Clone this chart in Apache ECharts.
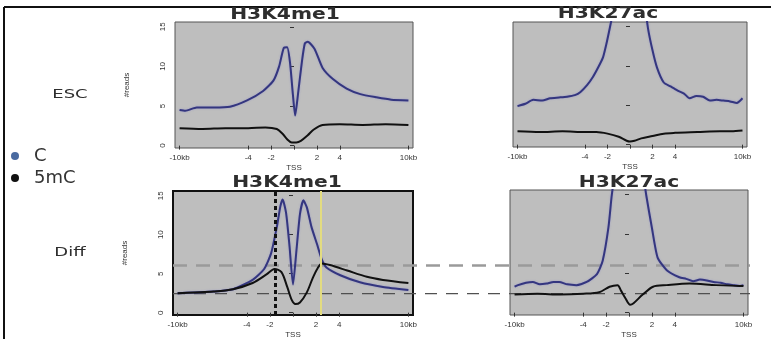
<!DOCTYPE html>
<html>
<head>
<meta charset="utf-8">
<script src="https://cdn.jsdelivr.net/npm/echarts@6/dist/echarts.min.js"></script>
<style>
html, body { margin: 0; padding: 0; background: #fff; }
#main { width: 771px; height: 339px; }
</style>
</head>
<body>
<div id="main"></div>
<script>
//坐标轴刻度
var xTicks = [-10, -4, -2, 0, 2, 4, 10];
var yTicks = [0, 5, 10, 15];

//ESC H3K4me1
var escK4CX = [-10, -9.5, -8.5, -7, -5.6, -4.1, -2.7, -1.8, -1.3, -0.9, -0.6, -0.35, -0.1, 0.1, 0.35, 0.7, 0.95, 1.2, 1.8, 2.5, 3.4, 4.6, 5.8, 7.2, 8.5, 10];
var escK4C = [4.5, 4.4, 4.8, 4.8, 4.9, 5.7, 6.9, 8.2, 10.0, 12.3, 12.4, 10.5, 6.5, 3.8, 6.5, 10.7, 12.9, 13.1, 12.2, 9.8, 8.4, 7.2, 6.5, 6.1, 5.8, 5.7];
var escK4mX = [-10, -8, -6, -4, -2.5, -1.5, -1, -0.6, -0.2, 0.2, 0.6, 1.2, 1.7, 2.5, 4, 6, 8, 10];
var escK4m = [2.2, 2.1, 2.2, 2.2, 2.3, 2.1, 1.5, 0.8, 0.4, 0.4, 0.6, 1.3, 2.0, 2.6, 2.7, 2.6, 2.7, 2.6];

//ESC H3K27ac
var escK27CX = [-10, -9.3, -8.6, -7.8, -7.1, -6.3, -5.6, -4.9, -4.4, -3.8, -3.3, -2.8, -2.4, -2.1, -1.8, -1.2, -0.6, 0, 0.6, 1.2, 1.6, 2.0, 2.4, 3, 3.6, 4.2, 4.8, 5.3, 5.9, 6.5, 7.1, 7.7, 8.3, 8.9, 9.5, 10];
var escK27C = [4.9, 5.2, 5.7, 5.6, 5.9, 6.0, 6.1, 6.3, 6.7, 7.6, 8.6, 9.9, 11.1, 12.8, 14.8, 19, 23, 25, 23, 19, 14.8, 12, 9.8, 7.9, 7.4, 6.9, 6.5, 5.9, 6.2, 6.1, 5.6, 5.7, 5.6, 5.5, 5.3, 5.9];
var escK27mX = [-10, -8, -6, -4, -3, -2, -1, -0.3, 0, 0.4, 1, 2, 3, 4, 6, 8, 9, 10];
var escK27m = [1.7, 1.6, 1.7, 1.6, 1.6, 1.4, 1.0, 0.5, 0.4, 0.5, 0.8, 1.1, 1.4, 1.5, 1.6, 1.7, 1.7, 1.8];

//Diff H3K4me1
var diffK4CX = [-10, -8.5, -6.9, -5.2, -3.5, -2.5, -1.9, -1.4, -1.1, -0.9, -0.6, -0.3, 0, 0.3, 0.6, 0.9, 1.2, 1.6, 2.1, 2.5, 2.9, 4.1, 5.8, 7.8, 10];
var diffK4C = [2.5, 2.6, 2.7, 3.0, 4.2, 5.6, 7.6, 11.0, 13.6, 14.5, 12.8, 8.5, 3.6, 8.0, 12.6, 14.4, 13.5, 11.0, 8.7, 6.8, 5.8, 4.8, 3.9, 3.3, 2.9];
var diffK4mX = [-10, -8.5, -6.9, -5.2, -3.5, -2.3, -1.6, -1.0, -0.5, -0.1, 0.2, 0.6, 1.2, 1.7, 2.1, 2.5, 3.2, 4.7, 6.4, 7.8, 10];
var diffK4m = [2.5, 2.6, 2.7, 3.0, 3.8, 4.9, 5.6, 5.2, 3.3, 1.6, 1.1, 1.3, 2.6, 4.4, 5.6, 6.3, 6.1, 5.4, 4.6, 4.2, 3.8];

//Diff H3K27ac
var diffK27CX = [-10, -9.7, -9, -8.4, -7.8, -7.2, -6.6, -6.1, -5.4, -4.6, -3.7, -2.8, -2.3, -1.8, -1.5, -1, 0, 1, 1.5, 2, 2.5, 3.3, 4.4, 5, 5.6, 6.2, 6.8, 7.4, 8, 8.6, 9.1, 9.7, 10];
var diffK27C = [3.3, 3.5, 3.8, 3.9, 3.6, 3.7, 3.9, 3.9, 3.6, 3.5, 3.9, 4.9, 6.6, 10.8, 15, 20, 25, 20, 15, 10.8, 7.0, 5.4, 4.5, 4.3, 4.0, 4.2, 4.1, 3.9, 3.8, 3.6, 3.5, 3.4, 3.5];
var diffK27mX = [-10, -8, -6, -4, -2.6, -1.7, -1.0, -0.7, -0.3, 0.1, 0.4, 1.2, 2.1, 3.3, 5.3, 7.6, 9.7, 10];
var diffK27m = [2.3, 2.4, 2.3, 2.4, 2.6, 3.3, 3.5, 2.8, 1.8, 1.0, 1.2, 2.3, 3.3, 3.5, 3.7, 3.5, 3.4, 3.4];

//参考线
var refLevels = [6.2, 2.65];
var refSpan = [0, 1];
var diffMarks = [-1.5, 2.4];

var blue = '#34367f';
var yMin = -0.3, yMax = 15.6;

function pairs(xs, ys) {
	var out = [];
	for (var i = 0; i < xs.length; i++) {
		out.push([xs[i], ys[i]]);
	}
	return out;
}

function tickLabel(v) {
	if (v === 0) return '{t|TSS}';
	if (v === -10) return '-10kb';
	if (v === 10) return '10kb';
	return String(v);
}

function makeX(idx) {
	return {
		type: 'value',
		gridIndex: idx,
		min: -10.4,
		max: 10.4,
		splitLine: { show: false },
		axisLine: { show: false },
		axisTick: { show: true, customValues: xTicks, length: 4, lineStyle: { color: '#333' } },
		axisLabel: {
			customValues: xTicks,
			formatter: tickLabel,
			fontSize: 8,
			color: '#333',
			margin: 6,
			rich: { t: { fontSize: 8, color: '#333', padding: [10, 0, 0, 0] } }
		}
	};
}

function makeY(idx, withLabel) {
	return {
		type: 'value',
		gridIndex: idx,
		min: yMin,
		max: yMax,
		name: withLabel ? '#reads' : '',
		nameLocation: 'middle',
		nameRotate: 90,
		nameGap: 44,
		nameTextStyle: { fontSize: 8, color: '#333' },
		splitLine: { show: false },
		axisLine: { show: false },
		axisTick: { show: true, customValues: yTicks, length: 4, lineStyle: { color: '#333' } },
		axisLabel: {
			show: withLabel,
			customValues: yTicks,
			rotate: 90,
			fontSize: 8,
			color: '#333',
			margin: 8
		}
	};
}

function curve(name, idx, xs, ys, color) {
	var isBlue = color === blue;
	return {
		name: name,
		type: 'line',
		xAxisIndex: idx,
		yAxisIndex: idx,
		data: pairs(xs, ys),
		smooth: isBlue ? 0.2 : 0.3,
		symbol: 'none',
		lineStyle: {
			color: color,
			width: 2,
			shadowColor: isBlue ? 'rgba(110,110,210,0.45)' : 'rgba(0,0,0,0)',
			shadowBlur: isBlue ? 2 : 0
		},
		itemStyle: { color: color },
		z: 3
	};
}

function titleText(txt, x, y, size, sx, weight) {
	return {
		type: 'text',
		x: x,
		y: y,
		scaleX: sx,
		style: {
			text: txt,
			x: 0,
			y: 0,
			fill: '#2e2e2e',
			font: (weight || 'normal') + ' ' + size + 'px "DejaVu Sans"',
			textAlign: 'center',
			textVerticalAlign: 'middle'
		}
	};
}

var gridBg = '#bebebe';
var grids = [
	{ left: 175, top: 22, width: 238, height: 126, show: true, backgroundColor: gridBg, borderColor: '#555', borderWidth: 1 },
	{ left: 513, top: 22, width: 234, height: 125, show: true, backgroundColor: gridBg, borderColor: '#555', borderWidth: 1 },
	{ left: 173, top: 191, width: 240, height: 126, show: true, backgroundColor: gridBg, borderColor: '#111', borderWidth: 2 },
	{ left: 510, top: 190, width: 238, height: 127, show: true, backgroundColor: gridBg, borderColor: '#555', borderWidth: 1 },
	//跨两个面板的参考线
	{ left: 173, top: 191, width: 577, height: 126, show: false }
];

var overlayX = { type: 'value', gridIndex: 4, min: 0, max: 1, show: false };
var overlayY = { type: 'value', gridIndex: 4, min: yMin, max: yMax, show: false };

var refStyles = [
	{ color: '#9a9a9a', width: 2.5, type: [14, 9] },
	{ color: '#505050', width: 1.2, type: [12, 9] }
];

var series = [];
for (var r = 0; r < refLevels.length; r++) {
	series.push({
		type: 'line',
		xAxisIndex: 4,
		yAxisIndex: 4,
		data: pairs(refSpan, [refLevels[r], refLevels[r]]),
		symbol: 'none',
		silent: true,
		lineStyle: refStyles[r],
		z: 2
	});
}

series.push(curve('C', 0, escK4CX, escK4C, blue));
series.push(curve('5mC', 0, escK4mX, escK4m, '#111'));
series.push(curve('C', 1, escK27CX, escK27C, blue));
series.push(curve('5mC', 1, escK27mX, escK27m, '#111'));
series.push(curve('C', 2, diffK4CX, diffK4C, blue));
var diffK4mSeries = curve('5mC', 2, diffK4mX, diffK4m, '#111');
diffK4mSeries.markLine = {
	silent: true,
	symbol: 'none',
	label: { show: false },
	data: [
		{ xAxis: diffMarks[0], lineStyle: { color: '#111', width: 3, type: [4, 3] } },
		{ xAxis: diffMarks[1], lineStyle: { color: '#e3dc80', width: 2, type: 'solid' } }
	]
};
series.push(diffK4mSeries);
series.push(curve('C', 3, diffK27CX, diffK27C, blue));
series.push(curve('5mC', 3, diffK27mX, diffK27m, '#111'));

var option = {
	animation: false,
	backgroundColor: '#fff',
	grid: grids,
	xAxis: [makeX(0), makeX(1), makeX(2), makeX(3), overlayX],
	yAxis: [makeY(0, true), makeY(1, false), makeY(2, true), makeY(3, false), overlayY],
	legend: {
		orient: 'vertical',
		left: 6,
		top: 142,
		itemGap: 4,
		icon: 'circle',
		itemWidth: 8,
		itemHeight: 8,
		selectedMode: false,
		textStyle: { fontSize: 18, color: '#333', fontFamily: 'DejaVu Sans', padding: [0, 0, 0, 10] },
		data: [
			{ name: 'C', itemStyle: { color: '#4a6aa0' } },
			{ name: '5mC', itemStyle: { color: '#111' } }
		]
	},
	graphic: [
		{ type: 'line', shape: { x1: 4, y1: 7, x2: 771, y2: 7 }, style: { stroke: '#111', lineWidth: 2 } },
		{ type: 'line', shape: { x1: 4, y1: 7, x2: 4, y2: 339 }, style: { stroke: '#111', lineWidth: 2 } },
		titleText('H3K4me1', 285, 15, 15, 1.35, 'bold'),
		titleText('H3K27ac', 608, 14, 15, 1.35, 'bold'),
		titleText('H3K4me1', 287, 183, 15, 1.35, 'bold'),
		titleText('H3K27ac', 629, 183, 15, 1.35, 'bold'),
		titleText('ESC', 70, 95, 12, 1.5),
		titleText('Diff', 70, 253, 12, 1.5)
	],
	series: series
};

var chart = echarts.init(document.getElementById('main'));
chart.setOption(option);
</script>
</body>
</html>
